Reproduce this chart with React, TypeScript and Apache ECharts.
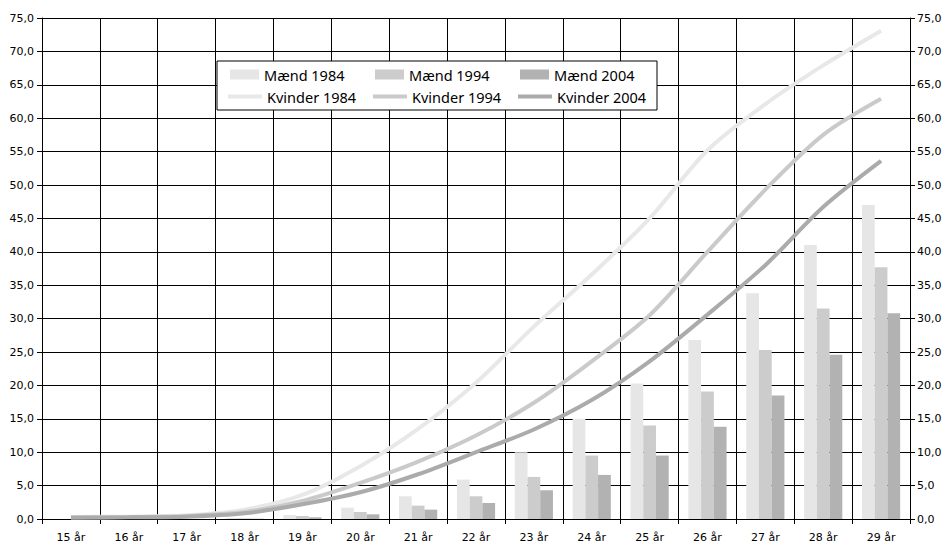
import React, { useEffect, useRef } from "react";
import * as echarts from "echarts";

const categories = ["15 år", "16 år", "17 år", "18 år", "19 år", "20 år", "21 år", "22 år", "23 år", "24 år", "25 år", "26 år", "27 år", "28 år", "29 år"];

const maend1984 = [0, 0.02, 0.05, 0.15, 0.6, 1.7, 3.4, 5.9, 10.0, 15.0, 20.3, 26.8, 33.8, 41.0, 47.0];
const maend1994 = [0, 0.01, 0.03, 0.1, 0.45, 1.05, 2.0, 3.4, 6.3, 9.5, 14.0, 19.1, 25.3, 31.5, 37.7];
const maend2004 = [0, 0.01, 0.02, 0.05, 0.25, 0.7, 1.4, 2.4, 4.3, 6.6, 9.5, 13.8, 18.5, 24.6, 30.8];

const kvinder1984 = [0.3, 0.35, 0.55, 1.4, 3.6, 7.9, 13.5, 20.4, 28.8, 36.6, 45.0, 55.2, 62.1, 67.9, 73.1];
const kvinder1994 = [0.25, 0.3, 0.45, 1.05, 2.7, 5.4, 8.6, 12.5, 17.4, 23.6, 30.5, 40.0, 49.3, 57.5, 62.9];
const kvinder2004 = [0.2, 0.25, 0.35, 0.85, 2.2, 4.0, 6.7, 10.0, 13.4, 17.8, 23.6, 30.6, 38.0, 46.7, 53.6];

const LIGHT = "#e6e6e6";
const MID = "#cccccc";
const DARK = "#b2b2b2";

const fmt = (v: number) => v.toFixed(1).replace(".", ",");

export default function App() {
  const ref = useRef<HTMLDivElement>(null);
  useEffect(() => {
    if (!ref.current) return;
    const chart = echarts.init(ref.current, null, { renderer: "svg" });
    const axisFont = { fontFamily: "DejaVu Sans", fontSize: 11, color: "#000" };
    const legendFont = { fontFamily: "Noto Sans", fontSize: 14.5, color: "#000" };
    const mkLegend = (name: string, left: number, top: number, isLine: boolean) => ({
      data: [name],
      left,
      top,
      padding: 0,
      itemWidth: isLine ? 34 : 29,
      itemHeight: isLine ? 4 : 10,
      icon: "rect",
      z: 60,
      selectedMode: false,
      textStyle: legendFont,
    });
    const barSeries = (name: string, data: number[], color: string) => ({
      name,
      type: "bar",
      data,
      barGap: "0%",
      barCategoryGap: "34%",
      itemStyle: { color },
      z: 2,
    });
    const lineSeries = (name: string, data: number[], color: string) => ({
      name,
      type: "line",
      data,
      smooth: 0.3,
      symbol: "none",
      lineStyle: { color, width: 4 },
      itemStyle: { color },
      z: 3,
    });
    chart.setOption({
      animation: false,
      grid: { left: 42, right: 37, top: 18, bottom: 27 },
      xAxis: {
        type: "category",
        data: categories,
        boundaryGap: true,
        axisLine: { lineStyle: { color: "#000", width: 1 } },
        axisTick: { show: true, length: 5, lineStyle: { color: "#000" } },
        axisLabel: { ...axisFont, margin: 13, interval: 0 },
        splitLine: { show: true, interval: 0, lineStyle: { color: "#000", width: 1 } },
      },
      yAxis: [
        {
          type: "value",
          min: 0,
          max: 75,
          interval: 5,
          position: "left",
          axisLine: { show: true, lineStyle: { color: "#000", width: 1 } },
          axisTick: { show: true, length: 5, lineStyle: { color: "#000" } },
          axisLabel: { ...axisFont, margin: 8, formatter: fmt },
          splitLine: { show: true, lineStyle: { color: "#000", width: 1 } },
        },
        {
          type: "value",
          min: 0,
          max: 75,
          interval: 5,
          position: "right",
          axisLine: { show: true, lineStyle: { color: "#000", width: 1 } },
          axisTick: { show: true, length: 5, lineStyle: { color: "#000" } },
          axisLabel: { ...axisFont, margin: 7, formatter: fmt },
          splitLine: { show: false },
        },
      ],
      legend: [
        mkLegend("Mænd 1984", 230, 67, false),
        mkLegend("Mænd 1994", 375, 67, false),
        mkLegend("Mænd 2004", 520, 67, false),
        mkLegend("Kvinder 1984", 228, 89, true),
        mkLegend("Kvinder 1994", 373, 89, true),
        mkLegend("Kvinder 2004", 518, 89, true),
      ],
      graphic: [
        {
          type: "rect",
          z: 50,
          shape: { x: 217, y: 61, width: 440, height: 49 },
          style: { fill: "#fff", stroke: "#000", lineWidth: 1 },
        },
      ],
      series: [
        barSeries("Mænd 1984", maend1984, LIGHT),
        barSeries("Mænd 1994", maend1994, MID),
        barSeries("Mænd 2004", maend2004, DARK),
        lineSeries("Kvinder 1984", kvinder1984, "#e8e8e8"),
        lineSeries("Kvinder 1994", kvinder1994, "#cacaca"),
        lineSeries("Kvinder 2004", kvinder2004, "#ababab"),
      ],
    });
    return () => chart.dispose();
  }, []);
  return (
    <div
      ref={ref}
      style={{ position: "fixed", left: 0, top: 0, width: 947, height: 546, background: "#fff" }}
    />
  );
}
